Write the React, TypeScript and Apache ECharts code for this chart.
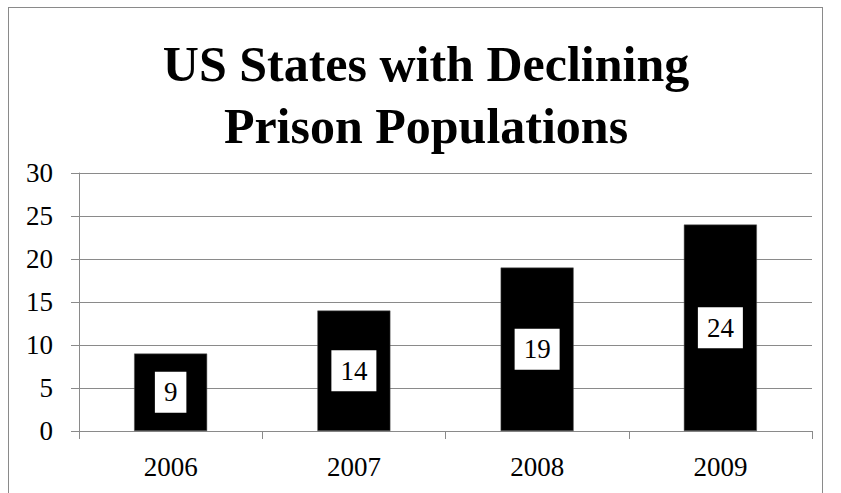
import React, { useEffect, useRef } from "react";
import * as echarts from "echarts";

const titleLines = ["US States with Declining", "Prison Populations"];
const years = ["2006", "2007", "2008", "2009"];
const statesDeclining = [9, 14, 19, 24];
const yMin = 0;
const yMax = 30;
const yStep = 5;

const SERIF = "'Liberation Serif', 'Times New Roman', serif";
const GRAY = "#8a8a8a";

export default function App() {
  const ref = useRef<HTMLDivElement>(null);
  useEffect(() => {
    if (!ref.current) return;
    const chart = echarts.init(ref.current, undefined, { renderer: "svg" });
    chart.setOption({
      animation: false,
      backgroundColor: "#ffffff",
      graphic: titleLines.map((t, i) => ({
        type: "text",
        x: 417,
        y: 56 + i * 62,
        style: {
          text: t,
          fontFamily: SERIF,
          fontWeight: "bold",
          fontSize: 50,
          fill: "#000",
          align: "center",
          verticalAlign: "middle",
        },
      })),
      grid: { left: 70, right: 10, top: 165, bottom: 62, containLabel: false },
      xAxis: {
        type: "category",
        data: years,
        axisLine: { show: true, lineStyle: { color: GRAY, width: 1 } },
        axisTick: { show: true, length: 8, alignWithLabel: false, lineStyle: { color: GRAY } },
        axisLabel: { color: "#000", fontFamily: SERIF, fontSize: 27, margin: 22 },
      },
      yAxis: {
        type: "value",
        min: yMin,
        max: yMax,
        interval: yStep,
        axisLine: { show: true, lineStyle: { color: GRAY, width: 1 } },
        axisTick: { show: true, length: 8, lineStyle: { color: GRAY } },
        axisLabel: { color: "#000", fontFamily: SERIF, fontSize: 27, margin: 26 },
        splitLine: { show: true, lineStyle: { color: GRAY, width: 1 } },
      },
      series: [
        {
          type: "bar",
          data: statesDeclining,
          barWidth: 73,
          itemStyle: { color: "#000", borderColor: "#555", borderWidth: 0.5 },
          label: {
            show: true,
            position: "inside",
            color: "#000",
            backgroundColor: "#fff",
            fontFamily: SERIF,
            fontSize: 27,
            padding: [7, 9],
          },
        },
      ],
    });
    return () => chart.dispose();
  }, []);
  return (
    <div
      style={{
        position: "fixed",
        left: 8,
        top: 7,
        width: 813,
        height: 520,
        border: `1px solid ${GRAY}`,
        background: "#fff",
      }}
    >
      <div ref={ref} style={{ width: 813, height: 485 }} />
    </div>
  );
}
